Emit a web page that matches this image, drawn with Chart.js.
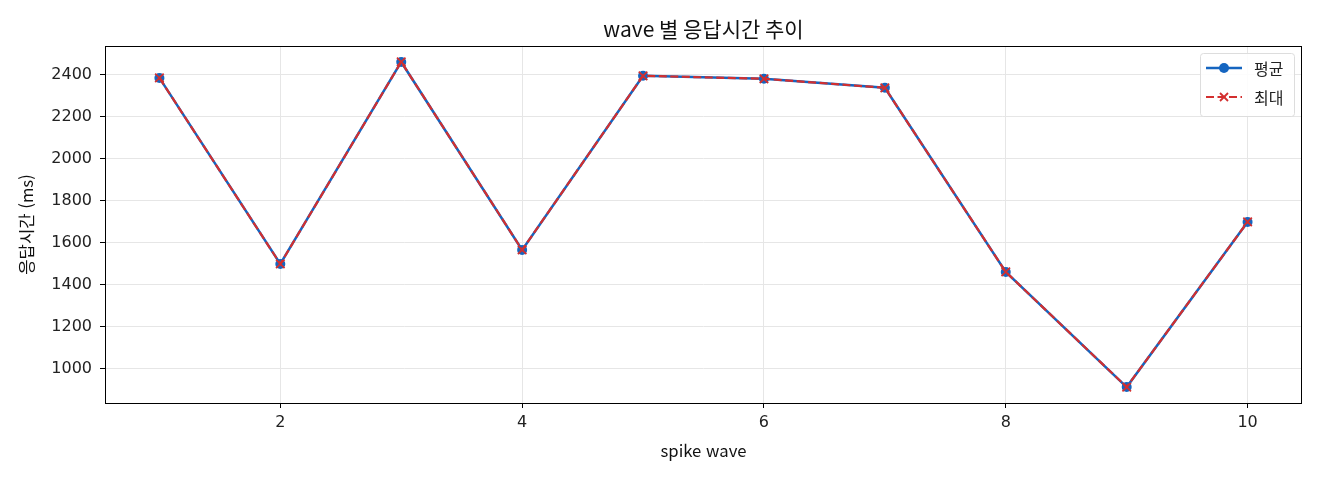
<!DOCTYPE html>
<html lang="ko">
<head>
    <meta charset="UTF-8">
    <title>wave 별 응답시간 추이</title>
    <script src="https://cdn.jsdelivr.net/npm/chart.js"></script>
    <style>
        html, body { margin: 0; padding: 0; background: #ffffff; }
        #wrap { width: 1320px; height: 480px; }
    </style>
</head>
<body>
    <div id="wrap"><canvas id="waveChart" width="1320" height="480"></canvas></div>

    <script>
        // wave 번호와 응답시간 (ms)
        const waves = [1, 2, 3, 4, 5, 6, 7, 8, 9, 10];
        const avgMs = [2386, 1500, 2462, 1567, 2396, 2382, 2339, 1462, 914, 1700];
        const maxMs = [2386, 1500, 2462, 1567, 2396, 2382, 2339, 1462, 914, 1700];
        const xTicks = [2, 4, 6, 8, 10];
        const yTicks = [1000, 1200, 1400, 1600, 1800, 2000, 2200, 2400];
        const chartTitle = "wave 별 응답시간 추이";

        const FONT = "'Noto Sans CJK KR', 'Noto Sans', sans-serif";
        const NUM_FONT = "'DejaVu Sans', 'Noto Sans CJK KR', sans-serif";
        const BLUE = "#1565c0";
        const RED = "#d32f2f";

        function points(vals) {
            return waves.map((w, i) => ({ x: w, y: vals[i] }));
        }

        // 플롯 테두리 + 축 영역 기준 제목
        const frame = {
            id: "frame",
            afterDatasetsDraw(chart) {
                const a = chart.chartArea, c = chart.ctx;
                c.save();
                c.strokeStyle = "#000";
                c.lineWidth = 1;
                c.strokeRect(a.left + 0.5, a.top + 0.5, a.right - a.left - 1, a.bottom - a.top);
                c.fillStyle = "#111";
                c.font = "21px " + FONT;
                c.textAlign = "center";
                c.textBaseline = "middle";
                c.fillText(chartTitle, (a.left + a.right) / 2, 29);
                c.restore();
            }
        };

        // matplotlib 스타일 범례
        const boxLegend = {
            id: "boxLegend",
            afterDraw(chart) {
                const c = chart.ctx, a = chart.chartArea;
                const w = 94, h = 63;
                const x0 = a.right - 8 - w, y0 = a.top + 7;
                c.save();
                c.fillStyle = "rgba(255,255,255,0.85)";
                c.strokeStyle = "#dddddd";
                c.lineWidth = 1;
                c.beginPath();
                c.roundRect(x0 + 0.5, y0 + 0.5, w, h, 3);
                c.fill();
                c.stroke();
                c.font = "16px " + FONT;
                c.textBaseline = "middle";
                const items = chart.data.datasets.slice().sort((p, q) => p.legendIndex - q.legendIndex);
                items.forEach((ds, i) => {
                    const y = y0 + 15 + i * 29;
                    const lx = x0 + 6, rx = x0 + 42, mx = (lx + rx) / 2;
                    c.strokeStyle = ds.borderColor;
                    c.lineWidth = ds.borderWidth;
                    c.setLineDash(ds.borderDash || []);
                    c.beginPath();
                    c.moveTo(lx, y);
                    c.lineTo(rx, y);
                    c.stroke();
                    c.setLineDash([]);
                    if (ds.pointStyle === "circle") {
                        c.fillStyle = ds.pointBackgroundColor;
                        c.beginPath();
                        c.arc(mx, y, 5, 0, Math.PI * 2);
                        c.fill();
                    } else {
                        c.strokeStyle = ds.pointBorderColor;
                        c.lineWidth = 1.8;
                        c.beginPath();
                        c.moveTo(mx - 4, y - 4); c.lineTo(mx + 4, y + 4);
                        c.moveTo(mx - 4, y + 4); c.lineTo(mx + 4, y - 4);
                        c.stroke();
                    }
                    c.fillStyle = "#222";
                    c.fillText(ds.label, x0 + 54, y + 1);
                });
                c.restore();
            }
        };

        new Chart(document.getElementById("waveChart").getContext("2d"), {
            type: "line",
            data: {
                datasets: [
                    {
                        label: "평균",
                        legendIndex: 0,
                        order: 1,
                        data: points(avgMs),
                        borderColor: BLUE,
                        borderWidth: 2.5,
                        pointStyle: "circle",
                        pointRadius: 5,
                        pointBackgroundColor: BLUE,
                        pointBorderColor: BLUE,
                        pointBorderWidth: 0,
                        tension: 0
                    },
                    {
                        label: "최대",
                        legendIndex: 1,
                        order: 0,
                        data: points(maxMs),
                        borderColor: RED,
                        borderWidth: 2.2,
                        borderDash: [8, 3.5],
                        pointStyle: "crossRot",
                        pointRadius: 6,
                        pointBorderColor: RED,
                        pointBackgroundColor: RED,
                        pointBorderWidth: 1.8,
                        tension: 0
                    }
                ]
            },
            options: {
                responsive: false,
                animation: false,
                layout: { padding: { left: 0, right: 18, top: 46, bottom: 0 } },
                plugins: {
                    legend: { display: false },
                    tooltip: { enabled: false },
                    title: { display: false }
                },
                scales: {
                    x: {
                        type: "linear",
                        min: 0.55,
                        max: 10.45,
                        afterBuildTicks: s => { s.ticks = xTicks.map(v => ({ value: v })); },
                        afterFit: s => { s.height = 77; },
                        ticks: {
                            color: "#222",
                            font: { family: NUM_FONT, size: 16 },
                            padding: 5,
                            maxRotation: 0,
                            callback: v => String(v)
                        },
                        grid: { color: "#e6e6e6", tickColor: "#000", tickLength: 5 },
                        border: { display: false },
                        title: {
                            display: true,
                            text: "spike wave",
                            color: "#111",
                            font: { family: FONT, size: 16.7 },
                            padding: { top: 8, bottom: 19 }
                        }
                    },
                    y: {
                        min: 838,
                        max: 2538,
                        afterBuildTicks: s => { s.ticks = yTicks.map(v => ({ value: v })); },
                        afterFit: s => { s.width = 105; },
                        ticks: {
                            color: "#222",
                            font: { family: NUM_FONT, size: 16 },
                            padding: 8,
                            callback: v => String(v)
                        },
                        grid: { color: "#e6e6e6", tickColor: "#000", tickLength: 5 },
                        border: { display: false },
                        title: {
                            display: true,
                            text: "응답시간 (ms)",
                            color: "#111",
                            font: { family: FONT, size: 16.7 },
                            padding: { top: 17, bottom: 0 }
                        }
                    }
                }
            },
            plugins: [frame, boxLegend]
        });
    </script>
</body>
</html>
